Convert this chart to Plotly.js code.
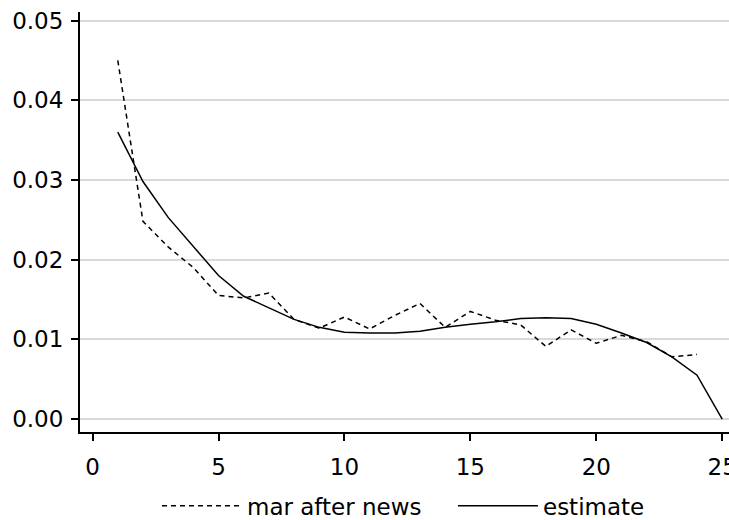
<!DOCTYPE html>
<html>
<head>
<meta charset="utf-8">
<script src="https://cdn.plot.ly/plotly-3.0.1.min.js"></script>
<style>html,body{margin:0;padding:0;background:#fff;}#chart{width:729px;height:520px;}</style>
</head>
<body>
<div id="chart"></div>
<script>
var newsX = [1,2,3,4,5,6,7,8,9,10,11,12,13,14,15,16,17,18,19,20,21,22,23,24];
var newsY = [0.0450,0.0248,0.0216,0.0190,0.0155,0.0152,0.0158,0.0125,0.0114,0.0128,0.0113,0.0130,0.0145,0.0115,0.0135,0.0124,0.0118,0.0091,0.0112,0.0095,0.0105,0.0097,0.0078,0.0081];
var estX = [1,2,3,4,5,6,7,8,9,10,11,12,13,14,15,16,17,18,19,20,21,22,23,24,25];
var estY = [0.0360,0.0298,0.0253,0.0216,0.0180,0.0154,0.0139,0.0125,0.0115,0.0109,0.0108,0.0108,0.0110,0.0115,0.0119,0.0122,0.0126,0.0127,0.0126,0.0119,0.0108,0.0096,0.0078,0.0055,0.0000];
var xTicks = [0,5,10,15,20,25];
var yTicks = [0,0.01,0.02,0.03,0.04,0.05];
var legendNames = ["mar after news","estimate"];

var font = {family:"DejaVu Sans, sans-serif", size:23, color:"#000"};
var legFont = {family:"DejaVu Sans, sans-serif", size:23, color:"#000"};
var traces = [
  {x:newsX, y:newsY, type:"scatter", mode:"lines", name:legendNames[0], legend:"legend",
   line:{color:"#000", width:1.5, dash:"5px,4px"}},
  {x:estX, y:estY, type:"scatter", mode:"lines", name:legendNames[1], legend:"legend2",
   line:{color:"#000", width:1.5}}
];
var layout = {
  width:729, height:520,
  margin:{l:80, r:0, t:12, b:88, autoexpand:false},
  paper_bgcolor:"#fff", plot_bgcolor:"#fff",
  font:font,
  showlegend:true,
  legend:{orientation:"h", x:0.1186, xanchor:"left", y:-0.176, yanchor:"middle",
          font:legFont, itemwidth:80},
  legend2:{orientation:"h", x:0.5747, xanchor:"left", y:-0.176, yanchor:"middle",
          font:legFont, itemwidth:80},
  xaxis:{range:[-0.5,25.27], tickvals:xTicks, ticktext:xTicks.map(String),
         showgrid:false, zeroline:false, showline:true, linecolor:"#000", linewidth:2,
         ticks:"outside", ticklen:7, tickwidth:2, tickcolor:"#000", tickfont:font,
         ticklabeloverflow:"allow", ticklabelstandoff:6, automargin:false},
  yaxis:{range:[-0.00163,0.05107], tickvals:yTicks, ticktext:yTicks.map(function(v){return v.toFixed(2);}),
         showgrid:true, gridcolor:"#d9d9d9", gridwidth:2, zeroline:false,
         showline:true, linecolor:"#000", linewidth:2,
         ticks:"outside", ticklen:7, tickwidth:2, tickcolor:"#000", tickfont:font,
         ticklabelstandoff:3, automargin:false}
};
Plotly.newPlot("chart", traces, layout, {displayModeBar:false, staticPlot:true});
</script>
</body>
</html>
